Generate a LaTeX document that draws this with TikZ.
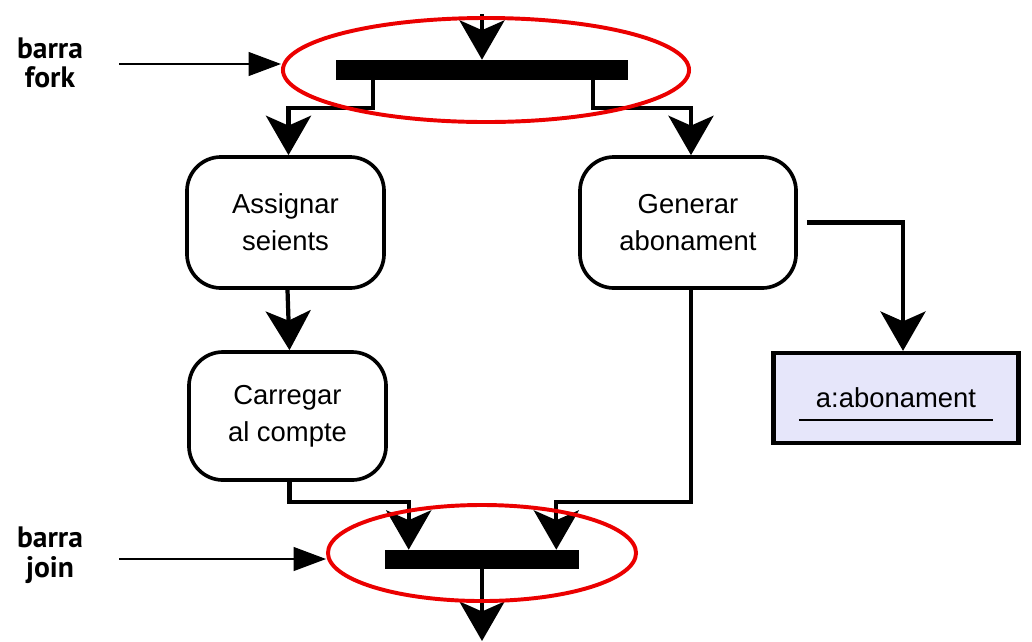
\documentclass[tikz,border=0pt]{standalone}
\usepackage{fontspec}
\setmainfont{Liberation Sans}
\newfontfamily\etiqfont{PT Sans}
\usepackage{xcolor}
\usepackage{tikz}
\usetikzlibrary{arrows.meta,positioning,shapes.geometric}
\definecolor{ovalred}{RGB}{235,0,0}
\definecolor{objfill}{RGB}{230,230,250}

\begin{document}
\begin{tikzpicture}[x=0.025cm,y=-0.025cm,
    accio/.style={draw,line width=2.6pt,rounded corners=0.85cm,align=center,
      minimum width=4.925cm,font=\fontsize{19.5}{26.5}\selectfont},
    barra/.style={fill=black,inner sep=0pt,minimum height=0.5cm},
    flux/.style={line width=3pt,-{Stealth[length=28pt,width=32pt,inset=7pt]}},
    oval/.style={ellipse,draw=ovalred,line width=2.8pt,inner sep=0pt},
    punter/.style={line width=0.9pt,-{Triangle[length=23pt,width=17pt]}},
    etiqueta/.style={font=\etiqfont\bfseries\fontsize{21}{21}\selectfont,align=center,inner sep=0pt}]
  \useasboundingbox (0,0) rectangle (1032,641);

  % barres fork / join
  \node[barra,minimum width=7.3cm] (fork) at (482,70) {};
  \node[barra,minimum width=4.85cm,minimum height=0.475cm] (join) at (482,559.5) {};

  % accions
  \node[accio,minimum height=3.275cm] (assignar) at (285.5,222.5) {Assignar\\seients};
  \node[accio,minimum width=5.4cm,minimum height=3.275cm] (generar) at (688,222.5) {Generar\\abonament};
  \node[accio,minimum height=3.2cm] (carregar) at (287.5,416) {Carregar\\al compte};

  % objecte
  \node[draw,fill=objfill,line width=3pt,minimum width=6.125cm,minimum height=2.25cm,
    font=\fontsize{19.5}{26}\selectfont] (obj) at (896,398) {a:abonament};
  \draw[line width=1.3pt] ([shift={(-2.425cm,-0.55cm)}]obj.center) -- ([shift={(2.425cm,-0.55cm)}]obj.center);

  \coordinate (entrada) at (482,14);
  \coordinate (sortida) at (482,641);

  % fluxos
  \draw[flux] (entrada) -- (fork.north);
  \draw[flux] ([xshift=0.925cm]fork.south west) -- ++(0,28) -| ([xshift=0.075cm]assignar.north);
  \draw[flux] ([xshift=-0.875cm]fork.south east) -- ++(0,28) -| ([xshift=0.075cm]generar.north);
  \draw[flux] ([xshift=0.05cm]assignar.south) -- ([xshift=0.05cm]carregar.north);
  \draw[flux] ([xshift=0.225cm]generar.east) -| ([xshift=0.175cm]obj.north);
  \draw[flux] ([xshift=0.05cm]carregar.south) -- ++(0,20) -| ([xshift=0.6cm]join.north west);
  \draw[flux] ([xshift=0.075cm]generar.south) -- ++(0,212) -| ([xshift=-0.575cm]join.north east);
  \draw[flux] (join.south) -- (sortida);

  % ovals vermells
  \node[oval,minimum width=10.15cm,minimum height=2.6cm] (ovalfork) at (486,70) {};
  \node[oval,minimum width=7.7cm,minimum height=2.4cm] (ovaljoin) at (482,553) {};

  % etiquetes
  \node[etiqueta] (lblfork) at (50,63) {barra\\fork};
  \node[etiqueta] (lbljoin) at (50,555) {barra\\join};
  \coordinate (pfork) at (119,64);
  \coordinate (pjoin) at (119,559);
  \draw[punter] (pfork) -- (pfork -| ovalfork.west);
  \draw[punter] (pjoin) -- (pjoin -| ovaljoin.west);
\end{tikzpicture}
\end{document}
